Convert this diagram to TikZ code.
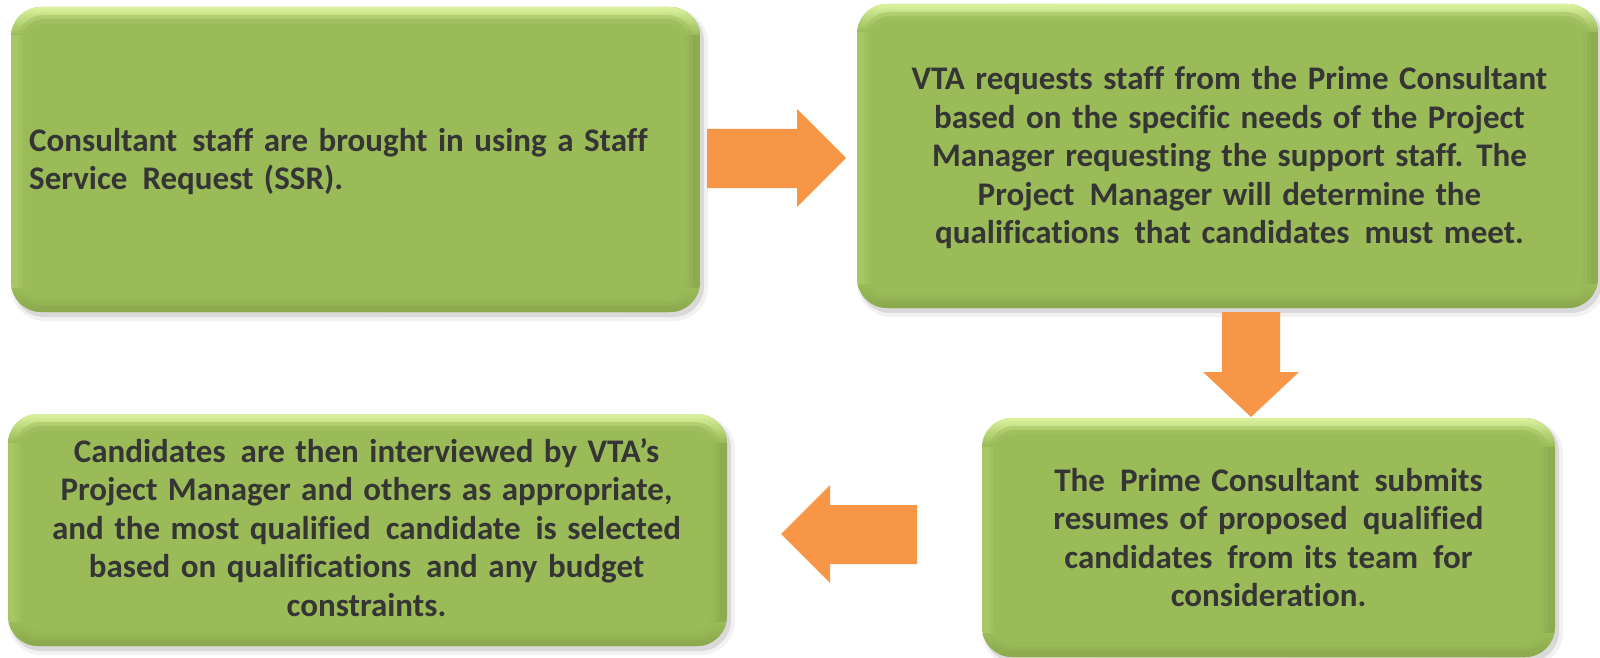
\documentclass[tikz,border=0pt]{standalone}
\usepackage{fontspec}
\setmainfont[Ligatures=CommonOff]{Carlito}
\usetikzlibrary{calc}
\definecolor{gBase}{HTML}{9BBB59}
\definecolor{gLight}{HTML}{DAF29D}
\definecolor{gLeft}{HTML}{A8C764}
\definecolor{gRight}{HTML}{8DAB4F}
\definecolor{gDark}{HTML}{8AA84C}
\definecolor{arrowOr}{HTML}{F79646}
\definecolor{txt}{HTML}{353535}
\newcommand\widesp{\spaceskip=10.5pt plus 1pt minus 1pt\relax}
\tikzset{
  boxtext/.style={font=\bfseries\fontsize{33}{38.5}\selectfont, execute at begin node=\widesp, text=txt, inner sep=0pt},
  blockarrow/.style={fill=arrowOr, draw=none},
  boxframe/.style={draw=none, inner sep=0pt, rectangle},
}
\newcommand\bevbox[5]{%
  \fill[black,opacity=.05,rounded corners=34pt] (#2,#3+2) rectangle (#4+8,#5+9);
  \fill[black,opacity=.10,rounded corners=31pt] (#2+2,#3+3) rectangle (#4+4,#5+5);
  \begin{scope}
    \clip[rounded corners=30pt] (#2,#3) rectangle (#4,#5);
    \shade[left color=gLeft,right color=gRight] (#2,#3) rectangle (#4,#5);
    \shade[top color=gLight,bottom color=gBase] (#2,#3) rectangle (#4,#3+28);
    \shade[top color=gBase,bottom color=gDark] (#2,#5-24) rectangle (#4,#5);
  \end{scope}
  \fill[gBase,opacity=.45,rounded corners=25pt] (#2+7,#3+8) rectangle (#4-7,#5-7);
  \fill[gBase,opacity=.7,rounded corners=22pt] (#2+11,#3+12) rectangle (#4-11,#5-11);
  \fill[gBase,rounded corners=20pt] (#2+15,#3+17) rectangle (#4-15,#5-15);
  \node[boxframe, minimum width={#4-#2}, minimum height={#5-#3}] (#1) at ({(#2+#4)/2},{(#3+#5)/2}) {};
}
\newcommand\xs{\hspace{15pt}}
\begin{document}
\begin{tikzpicture}[x=1pt,y=-1pt]
  \useasboundingbox (0,0) rectangle (1600,658);
  \fill[white] (0,0) rectangle (1600,658);

  \bevbox{b1}{11}{7}{700}{312}
  \bevbox{b2}{857}{4}{1598}{308}
  \bevbox{b3}{982}{418}{1555}{657}
  \bevbox{b4}{8}{414}{727}{646}

  \node[boxtext, anchor=base west] (t1) at (29,151)
    {\begin{tabular}[t]{@{}l@{}}Consultant\xs staff are brought in using a Staff\\Service\xs Request (SSR).\end{tabular}};
  \node[boxtext, anchor=base] (t2) at (1229.5,90)
    {\begin{tabular}[t]{@{}c@{}}VTA requests staff from the Prime Consultant\\based on the specific needs of the Project\\Manager requesting the support staff. The\\Project\xs Manager will determine the\\qualifications\xs that candidates\xs must meet.\end{tabular}};
  \node[boxtext, anchor=base] (t3) at (1268.5,491)
    {\begin{tabular}[t]{@{}c@{}}The\xs Prime Consultant\xs submits\\resumes of proposed\xs qualified\\candidates\xs from its team\xs for\\consideration.\end{tabular}};
  \node[boxtext, anchor=base] (t4) at (366.5,462)
    {\begin{tabular}[t]{@{}c@{}}Candidates\xs are then interviewed by VTA’s\\Project Manager and others as appropriate,\\and the most qualified\xs candidate\xs is selected\\based on qualifications\xs and any budget\\constraints.\end{tabular}};

  % block arrows between the boxes
  \fill[blockarrow] (707,129) -- (797,129) -- (797,109) -- (846,158) -- (797,207) -- (797,188) -- (707,188) -- cycle;
  \fill[blockarrow] (1222,312) -- (1280,312) -- (1280,372) -- (1299,372) -- (1251,417) -- (1203,372) -- (1222,372) -- cycle;
  \fill[blockarrow] (917,505) -- (830,505) -- (830,485) -- (781,534) -- (830,583) -- (830,564) -- (917,564) -- cycle;
\end{tikzpicture}
\end{document}
